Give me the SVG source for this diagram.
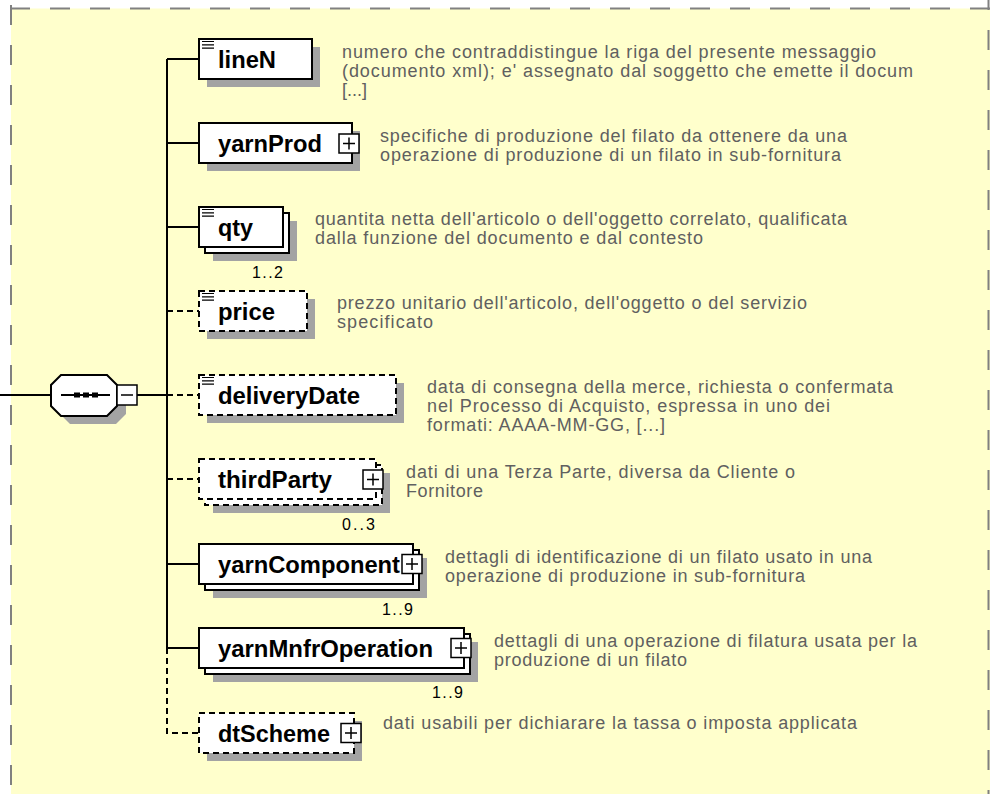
<svg xmlns="http://www.w3.org/2000/svg" xmlns:xlink="http://www.w3.org/1999/xlink" width="990" height="794" viewBox="0 0 990 794">
<style>
.shadow{fill:#a3a3a3}
.box{fill:#fff;stroke:#000;stroke-width:2}
.opt{stroke-dasharray:6 4}
.lbl{font-family:"Liberation Sans",Arial,sans-serif;font-weight:bold;font-size:23px;fill:#000}
.desc{font-family:"Liberation Sans",Arial,sans-serif;font-size:18px;fill:#606060}
.mult{font-family:"Liberation Sans",Arial,sans-serif;font-size:16px;fill:#000}
.conn{stroke:#000;stroke-width:2;fill:none}
.thin{stroke:#000;stroke-width:1.5;fill:none}
.border{stroke:#808080;stroke-width:2;stroke-dasharray:20 20;fill:none}
</style>
<defs>
<g id="doc"><path d="M0,0h12M0,3.3h12M0,6.6h12" stroke="#000" stroke-width="1.2"/></g>
<g id="plus"><rect x="0" y="0" width="20" height="19" fill="#fff" stroke="#000" stroke-width="1.5"/><path d="M4,9.5h12M10,3.5v12" stroke="#000" stroke-width="1.5"/></g>
</defs>
<rect x="0" y="0" width="990" height="794" fill="#fff"/>
<g id="frame">
<rect x="11" y="8.5" width="979" height="786" fill="#ffffcc"/>
<path class="border" d="M10,8.5H990"/>
<path class="border" d="M11,5V794"/>
<path class="border" d="M988.5,-10V794"/>
</g>

<g id="connectors">
<path class="conn" d="M0,395H51M137,395H167M167,59V648M167,59H199M167,143H199M167,227H199M167,564H199M167,648H199"/>
<path class="conn opt" d="M167,311H199M167,395H199M167,479H199M167,648V733H199"/>
</g>

<g id="sequence">
<polygon class="shadow" points="70,383 116,383 126,393 126,414 116,424 70,424 60,414 60,393"/>
<polygon class="box" points="61,375 107,375 117,385 117,406 107,416 61,416 51,406 51,385"/>
<path class="conn" d="M61,395H110"/>
<rect x="74" y="392.5" width="6" height="5" fill="#000"/>
<rect x="83" y="392.5" width="6" height="5" fill="#000"/>
<rect x="92" y="392.5" width="6" height="5" fill="#000"/>
<rect x="117" y="385" width="20" height="20" fill="#fff" stroke="#000" stroke-width="1.5"/>
<path class="thin" d="M121,395H133"/>
</g>

<g id="lineN">
<rect class="shadow" x="207" y="47" width="113" height="40"/>
<rect class="box" x="199" y="39" width="113" height="40"/>
<use xlink:href="#doc" x="202" y="41.5"/>
<text class="lbl" x="218" y="67.5" textLength="58" lengthAdjust="spacingAndGlyphs">lineN</text>
<text class="desc" x="342" y="58" textLength="534">numero che contraddistingue la riga del presente messaggio</text>
<text class="desc" x="342" y="77" textLength="571">(documento xml); e' assegnato dal soggetto che emette il docum</text>
<text class="desc" x="342" y="96">[...]</text>
</g>

<g id="yarnProd">
<rect class="shadow" x="207" y="131" width="153" height="40"/>
<rect class="box" x="199" y="123" width="153" height="40"/>
<use xlink:href="#plus" x="339" y="134"/>
<text class="lbl" x="218" y="151.5" textLength="104" lengthAdjust="spacingAndGlyphs">yarnProd</text>
<text class="desc" x="380" y="142" textLength="467">specifiche di produzione del filato da ottenere da una</text>
<text class="desc" x="380" y="161" textLength="461">operazione di produzione di un filato in sub-fornitura</text>
</g>

<g id="qty">
<rect class="shadow" x="213" y="221" width="84" height="40"/>
<rect class="box" x="205" y="213" width="84" height="40"/>
<rect class="box" x="199" y="207" width="84" height="40"/>
<use xlink:href="#doc" x="202" y="209.5"/>
<text class="lbl" x="218" y="235.5" textLength="35" lengthAdjust="spacingAndGlyphs">qty</text>
<text class="mult" x="252" y="278" textLength="31">1..2</text>
<text class="desc" x="315" y="225" textLength="532">quantita netta dell'articolo o dell'oggetto correlato, qualificata</text>
<text class="desc" x="315" y="244" textLength="388">dalla funzione del documento e dal contesto</text>
</g>

<g id="price">
<rect class="shadow" x="207" y="299" width="108" height="40"/>
<rect class="box opt" x="199" y="291" width="108" height="40"/>
<use xlink:href="#doc" x="202" y="293.5"/>
<text class="lbl" x="218" y="319.5" textLength="57" lengthAdjust="spacingAndGlyphs">price</text>
<text class="desc" x="337" y="309" textLength="470">prezzo unitario dell'articolo, dell'oggetto o del servizio</text>
<text class="desc" x="337" y="328" textLength="96">specificato</text>
</g>

<g id="deliveryDate">
<rect class="shadow" x="207" y="383" width="197" height="40"/>
<rect class="box opt" x="199" y="375" width="197" height="40"/>
<use xlink:href="#doc" x="202" y="377.5"/>
<text class="lbl" x="218" y="403.5" textLength="142" lengthAdjust="spacingAndGlyphs">deliveryDate</text>
<text class="desc" x="427" y="393" textLength="466">data di consegna della merce, richiesta o confermata</text>
<text class="desc" x="427" y="412" textLength="403">nel Processo di Acquisto, espressa in uno dei</text>
<text class="desc" x="427" y="431" textLength="238">formati: AAAA-MM-GG, [...]</text>
</g>

<g id="thirdParty">
<rect class="shadow" x="213" y="473" width="177" height="40"/>
<rect class="box opt" x="205" y="465" width="177" height="40"/>
<rect class="box opt" x="199" y="459" width="177" height="40"/>
<use xlink:href="#plus" x="363" y="470"/>
<text class="lbl" x="218" y="487.5" textLength="114" lengthAdjust="spacingAndGlyphs">thirdParty</text>
<text class="mult" x="342" y="530" textLength="33">0..3</text>
<text class="desc" x="406" y="478" textLength="389">dati di una Terza Parte, diversa da Cliente o</text>
<text class="desc" x="406" y="497" textLength="77">Fornitore</text>
</g>

<g id="yarnComponent">
<rect class="shadow" x="213" y="558" width="214" height="40"/>
<rect class="box" x="205" y="550" width="214" height="40"/>
<rect class="box" x="199" y="544" width="214" height="40"/>
<use xlink:href="#plus" x="402" y="554.5"/>
<text class="lbl" x="218" y="572.5" textLength="182" lengthAdjust="spacingAndGlyphs">yarnComponent</text>
<text class="mult" x="382" y="615" textLength="31">1..9</text>
<text class="desc" x="445" y="563" textLength="427">dettagli di identificazione di un filato usato in una</text>
<text class="desc" x="445" y="582" textLength="360">operazione di produzione in sub-fornitura</text>
</g>

<g id="yarnMnfrOperation">
<rect class="shadow" x="213" y="642" width="265" height="40"/>
<rect class="box" x="205" y="634" width="265" height="40"/>
<rect class="box" x="199" y="628" width="265" height="40"/>
<use xlink:href="#plus" x="451" y="638.5"/>
<text class="lbl" x="218" y="656.5" textLength="215" lengthAdjust="spacingAndGlyphs">yarnMnfrOperation</text>
<text class="mult" x="432" y="698" textLength="31">1..9</text>
<text class="desc" x="494" y="647" textLength="423">dettagli di una operazione di filatura usata per la</text>
<text class="desc" x="494" y="666" textLength="193">produzione di un filato</text>
</g>

<g id="dtScheme">
<rect class="shadow" x="207" y="721" width="155" height="40"/>
<rect class="box opt" x="199" y="713" width="155" height="40"/>
<use xlink:href="#plus" x="341" y="723.5"/>
<text class="lbl" x="218" y="741.5" textLength="112" lengthAdjust="spacingAndGlyphs">dtScheme</text>
<text class="desc" x="383" y="729" textLength="474">dati usabili per dichiarare la tassa o imposta applicata</text>
</g>
</svg>
